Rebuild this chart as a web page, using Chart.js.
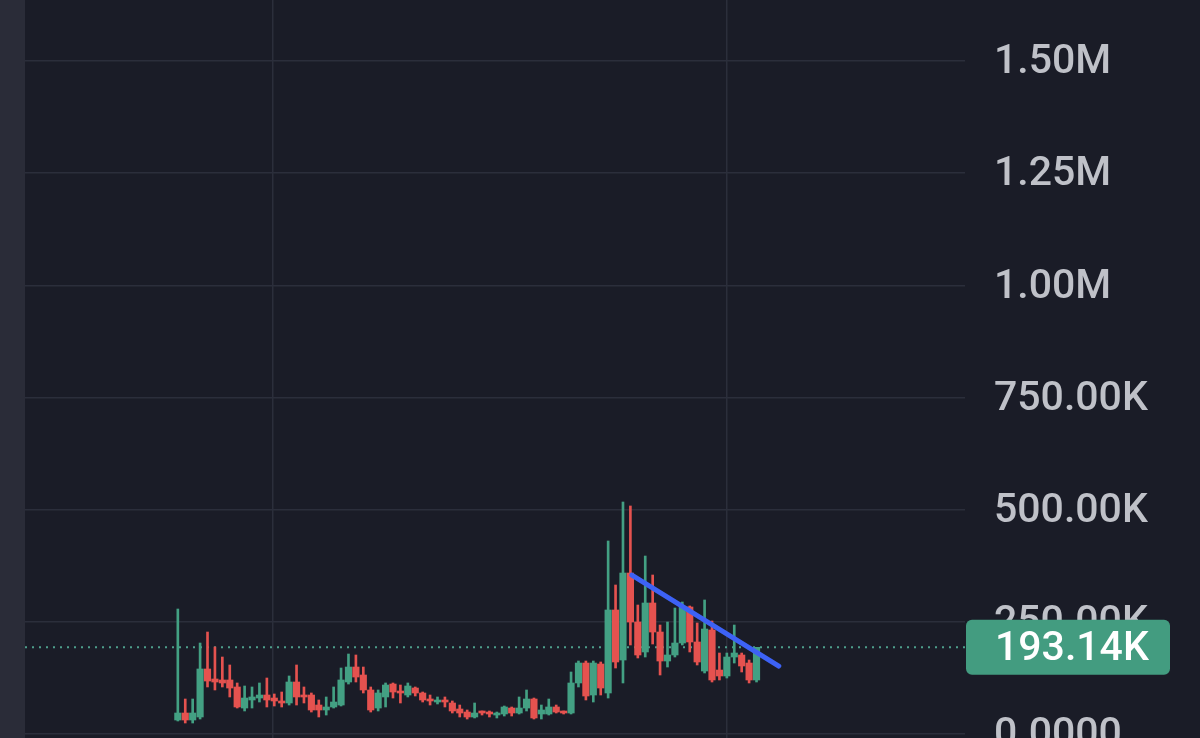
<!DOCTYPE html>
<html><head><meta charset="utf-8">
<script src="https://cdn.jsdelivr.net/npm/chart.js@4.4.0/dist/chart.umd.min.js"></script>
<style>
html,body{margin:0;padding:0;width:1200px;height:738px;overflow:hidden;background:#2a2c38;}
#wrap{position:absolute;left:25px;top:0;width:1175px;height:738px;background:#1a1c27;}
</style></head><body>
<div id="wrap"><canvas id="c"></canvas></div>
<script>
// Values in thousands (K)
const opensK = [31.2,46.8,31.2,37.9,144.9,122.6,120.4,120.4,104.8,57.9,
 75.8,80.2,86.9,80.2,73.6,69.1,115.9,86.9,86.9,64.6,
 53.5,60.2,64.6,115.9,149.3,131.5,98.1,57.9,82.5,111.4,
 93.6,86.9,102.5,91.4,78.0,71.3,75.8,69.1,55.7,49.0,
 37.9,49.0,49.0,42.3,44.6,57.9,46.8,57.9,78.0,44.6,
 44.6,60.2,49.0,46.8,113.7,158.2,86.9,156.0,91.4,276.4,
 164.9,358.8,249.6,182.8,292.0,227.3,162.7,176.1,202.8,283.1,
 205.1,140.4,231.8,142.6,129.3,171.6,176.1,158.2,120.4];
const highsK = [278.6,78.0,78.0,202.8,227.3,193.9,171.6,153.8,113.7,107.0,
 104.8,113.7,124.8,89.2,93.6,129.3,153.8,104.8,91.4,75.8,
 82.5,104.8,147.1,178.3,176.1,149.3,104.8,98.1,113.7,113.7,
 109.2,113.7,104.8,93.6,86.9,82.5,82.5,73.6,64.6,53.5,
 69.1,51.3,51.3,49.0,62.4,60.2,82.5,98.1,80.2,64.6,
 78.0,64.6,51.3,138.2,162.7,162.7,162.7,160.5,430.2,332.1,
 517.1,508.2,287.5,396.7,354.4,242.9,249.6,280.8,294.2,285.3,
 247.4,298.7,251.9,180.5,180.5,242.9,180.5,164.9,193.14];
const lowsK = [29.0,24.5,24.5,33.4,104.8,98.1,104.8,82.5,57.9,51.3,
 57.9,71.3,60.2,62.4,60.2,64.6,64.6,69.1,49.0,37.9,
 42.3,57.9,62.4,111.4,115.9,91.4,49.0,51.3,60.2,80.2,
 69.1,82.5,84.7,71.3,64.6,66.9,60.2,46.8,37.9,33.4,
 35.7,42.3,37.9,35.7,40.1,40.1,44.6,51.3,33.4,33.4,
 42.3,46.8,44.6,44.6,104.8,75.8,71.3,86.9,80.2,147.1,
 113.7,198.4,169.4,171.6,200.6,131.5,149.3,171.6,198.4,182.8,
 153.8,136.0,115.9,120.4,124.8,158.2,138.2,113.7,115.9];
const closesK = [46.8,31.2,46.8,144.9,118.1,115.9,113.7,102.5,60.2,80.2,
 82.5,86.9,75.8,73.6,69.1,115.9,82.5,82.5,53.5,53.5,
 60.2,71.3,120.4,149.3,127.0,98.1,53.5,91.4,109.2,93.6,
 91.4,107.0,91.4,75.8,73.6,75.8,71.3,51.3,46.8,37.9,
 46.8,46.8,44.6,46.8,60.2,46.8,57.9,78.0,35.7,53.5,
 60.2,49.0,46.8,113.7,158.2,84.7,158.2,102.5,276.4,160.5,
 358.8,249.6,176.1,292.0,227.3,162.7,176.1,202.8,283.1,205.1,
 160.5,234.0,120.4,129.3,171.6,180.5,151.6,120.4,193.14];
const yTickValues = [0,250000,500000,750000,1000000,1250000,1500000];
const yTickLabels = ['0.0000','250.00K','500.00K','750.00K','1.00M','1.25M','1.50M'];
const xGridAt = [12.8, 74.0];
const trendX = [61.2, 81];
const trendY = [354000, 151500];
const lastPrice = 193140;
const lastPriceLabel = '193.14K';
const xRange = [-20.6, 106.1];
const yRange = [-8915, 1635960];

const UP = '#43a083', DOWN = '#e5524f';
const K = 1000;
const idx = opensK.map((_, i) => i);
const colors = idx.map(i => closesK[i] >= opensK[i] ? UP : DOWN);
const FONT = "Roboto, 'Liberation Sans', Arial, sans-serif";

const priceBox = {
  id: 'priceBox',
  afterDraw(chart) {
    const ctx = chart.ctx, y = chart.scales.y.getPixelForValue(lastPrice);
    const left = chart.chartArea.right + 1;
    ctx.save();
    ctx.fillStyle = '#439c80';
    ctx.beginPath();
    ctx.roundRect(left, y - 27.5, 204, 55, 6);
    ctx.fill();
    ctx.fillStyle = '#ffffff';
    ctx.font = "500 41px " + FONT;
    ctx.textAlign = 'left';
    ctx.textBaseline = 'middle';
    ctx.fillText(lastPriceLabel, chart.chartArea.right + 30, y + 2);
    ctx.restore();
  }
};

new Chart(document.getElementById('c'), {
  type: 'bar',
  data: {
    datasets: [
      {
        type: 'line', order: 0,
        data: trendX.map((x, i) => ({x, y: trendY[i]})),
        borderColor: '#3d62f5', borderWidth: 5, borderCapStyle: 'round',
        pointRadius: 0, tension: 0
      },
      {
        type: 'bar', order: 1, grouped: false,
        data: idx.map(i => ({x: i, y: [opensK[i] * K, closesK[i] * K]})),
        backgroundColor: colors, barThickness: 6.5, minBarLength: 2, borderWidth: 0
      },
      {
        type: 'bar', order: 2, grouped: false,
        data: idx.map(i => ({x: i, y: [lowsK[i] * K, highsK[i] * K]})),
        backgroundColor: colors, barThickness: 2, borderWidth: 0
      },
      {
        type: 'line', order: 3,
        data: xRange.map(x => ({x, y: lastPrice})),
        borderColor: '#4e9f8c', borderWidth: 2, borderDash: [2, 5],
        pointRadius: 0
      }
    ]
  },
  options: {
    responsive: true, maintainAspectRatio: false, animation: false,
    layout: {padding: 0},
    plugins: {legend: {display: false}, tooltip: {enabled: false}},
    scales: {
      x: {
        type: 'linear', min: xRange[0], max: xRange[1], offset: false,
        grid: {color: '#2b2e3b', lineWidth: 1.5, drawTicks: false, offset: false},
        border: {display: false},
        ticks: {display: false},
        afterBuildTicks(s) { s.ticks = xGridAt.map(v => ({value: v})); },
        afterFit(s) { s.height = 0; s.paddingLeft = 0; s.paddingRight = 0; }
      },
      y: {
        type: 'linear', position: 'right', min: yRange[0], max: yRange[1],
        grid: {color: '#2b2e3b', lineWidth: 1.5, drawTicks: false},
        border: {display: false},
        ticks: {
          color: '#bfc1c8', padding: 29, labelOffset: 2,
          font: {size: 41, family: FONT, weight: '500'},
          callback: (v) => { const k = yTickValues.indexOf(v); return k >= 0 ? yTickLabels[k] : ''; }
        },
        afterBuildTicks(s) { s.ticks = yTickValues.map(v => ({value: v})); },
        afterFit(s) { s.width = 235; s.paddingTop = 0; s.paddingBottom = 0; }
      }
    }
  },
  plugins: [priceBox]
});
</script>
</body></html>
